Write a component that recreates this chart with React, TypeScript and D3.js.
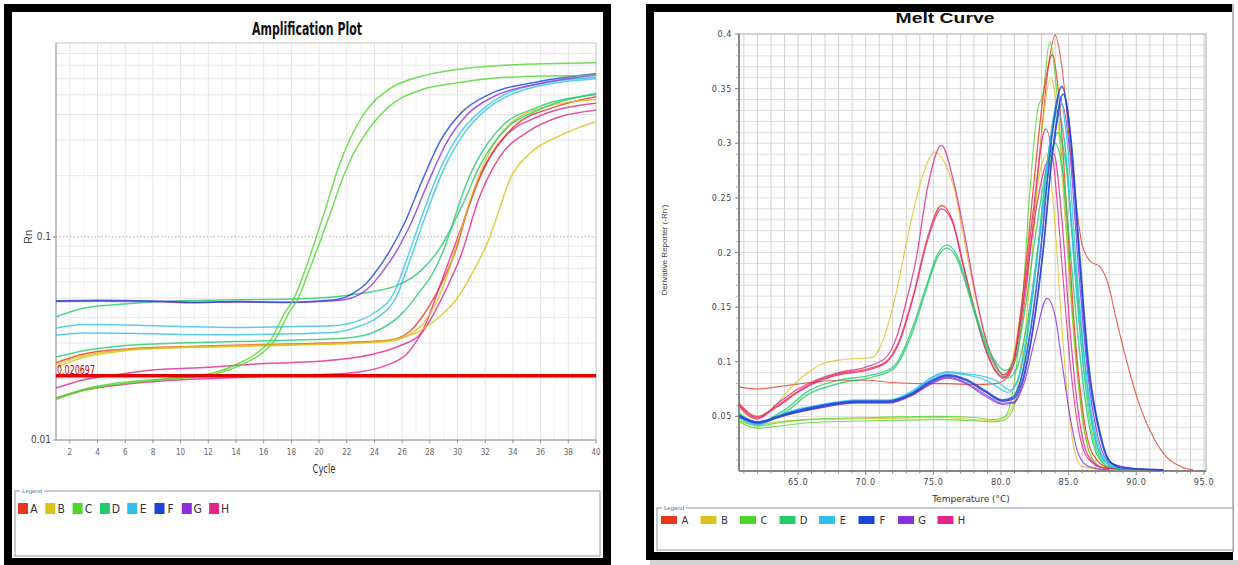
import React from 'react';
import * as d3 from 'd3';

type Pt = [number, number];

const sampleNames = ['A', 'B', 'C', 'D', 'E', 'F', 'G', 'H'];
const sampleColors = ['#e8371e', '#d9c21c', '#4fd62a', '#21cc6b', '#2fc0e9', '#1d44d8', '#8c2fe3', '#e3248a'];

// ---- amplification plot ----
const cycleTicks = d3.range(2, 41, 2);
const rnTickLabels = [0.01, 0.1];
const thresholdValue = 0.020697;

// [cycle, Rn]
const ampC1: Pt[] = [[1, 0.0161], [3, 0.0178], [5.4, 0.0191], [8, 0.0198], [10.2, 0.0204], [12.6, 0.0216], [14.3, 0.024], [15.5, 0.0268], [16.5, 0.031], [17.5, 0.042], [18.2, 0.05], [18.9, 0.066], [19.7, 0.095], [20.5, 0.14], [21.4, 0.22], [22.3, 0.31], [23.2, 0.4], [25, 0.53], [27.4, 0.617], [29.8, 0.665], [33.4, 0.7], [40, 0.72]];
const ampC2: Pt[] = [[1, 0.0158], [3, 0.0175], [5.4, 0.0188], [8, 0.0196], [10.2, 0.0202], [12.6, 0.0212], [14.3, 0.0233], [15.7, 0.0262], [16.8, 0.031], [17.8, 0.042], [18.5, 0.05], [19.2, 0.066], [20, 0.092], [20.8, 0.13], [21.6, 0.186], [22.4, 0.25], [23.2, 0.31], [25, 0.435], [27.4, 0.53], [29.8, 0.57], [33.4, 0.61], [40, 0.625]];
const ampF: Pt[] = [[1, 0.0484], [4, 0.0487], [8, 0.0484], [11, 0.0477], [14, 0.048], [18, 0.0477], [20, 0.0484], [21.5, 0.0495], [22.5, 0.053], [23.4, 0.059], [24, 0.066], [25, 0.083], [26.2, 0.118], [27.4, 0.186], [28.8, 0.3], [30.3, 0.41], [32.2, 0.5], [35.8, 0.58], [40, 0.635]];
const ampG: Pt[] = [[1, 0.048], [4, 0.0482], [8, 0.048], [11, 0.0474], [14, 0.0478], [18, 0.0475], [20, 0.048], [21.8, 0.049], [22.9, 0.052], [23.8, 0.058], [24.4, 0.065], [25.4, 0.081], [26.6, 0.115], [27.8, 0.18], [29.2, 0.29], [30.7, 0.4], [32.6, 0.49], [36, 0.57], [40, 0.625]];
const ampE1: Pt[] = [[1, 0.0355], [3, 0.037], [6, 0.0368], [10, 0.0362], [14, 0.0358], [18, 0.0362], [21, 0.0365], [23, 0.039], [24, 0.0423], [25.4, 0.0529], [26.4, 0.0797], [27.4, 0.125], [28.8, 0.22], [30.3, 0.333], [32, 0.435], [34.6, 0.54], [40, 0.61]];
const ampE2: Pt[] = [[1, 0.0328], [3, 0.0336], [6, 0.0335], [10, 0.0331], [14, 0.033], [18, 0.0333], [21, 0.0338], [23, 0.0365], [24.2, 0.04], [25.6, 0.051], [26.6, 0.078], [27.6, 0.122], [29, 0.215], [30.5, 0.325], [32.2, 0.43], [34.8, 0.53], [40, 0.6]];
const ampD1: Pt[] = [[1, 0.0404], [3, 0.0445], [5, 0.0462], [8, 0.0478], [11, 0.0486], [14, 0.049], [18, 0.0495], [20, 0.05], [22, 0.0515], [24, 0.054], [25.6, 0.0575], [27.4, 0.0686], [28.8, 0.0896], [30.3, 0.141], [31.7, 0.23], [33.7, 0.35], [35.8, 0.42], [40, 0.51]];
const ampD2: Pt[] = [[1, 0.0256], [3, 0.0275], [6, 0.0292], [10, 0.03], [14, 0.0305], [18, 0.031], [22, 0.0318], [24, 0.034], [26, 0.042], [27.2, 0.053], [28.2, 0.066], [29.1, 0.09], [29.9, 0.131], [30.6, 0.18], [31.3, 0.23], [32.2, 0.29], [33.2, 0.35], [35.8, 0.435], [40, 0.5]];
const ampB1: Pt[] = [[1, 0.0235], [3, 0.026], [6, 0.0278], [9, 0.0285], [13, 0.029], [18, 0.0295], [22, 0.03], [25, 0.031], [27.4, 0.0348], [28.8, 0.041], [29.9, 0.049], [31.3, 0.071], [32.2, 0.095], [33, 0.135], [33.7, 0.186], [35.3, 0.26], [37.4, 0.315], [40, 0.37]];
const ampB2: Pt[] = [[1, 0.0228], [3, 0.0255], [6, 0.0275], [9, 0.0283], [13, 0.0288], [18, 0.0293], [22, 0.0298], [25, 0.0305], [26.5, 0.033], [27.6, 0.038], [28.5, 0.048], [29.3, 0.066], [30.1, 0.1], [30.9, 0.15], [31.8, 0.22], [32.8, 0.3], [34, 0.37], [36, 0.43], [40, 0.475]];
const ampA: Pt[] = [[1, 0.024], [3, 0.0265], [6, 0.028], [10, 0.0288], [14, 0.0293], [18, 0.0297], [22, 0.0302], [25, 0.031], [26.5, 0.034], [27.4, 0.04], [28.1, 0.0474], [29, 0.062], [29.8, 0.083], [30.8, 0.141], [32.2, 0.2375], [34.1, 0.35], [37, 0.435], [40, 0.49]];
const ampH1: Pt[] = [[1, 0.018], [3, 0.0198], [5, 0.0208], [8, 0.0221], [12, 0.0228], [16, 0.0238], [20, 0.0244], [23.6, 0.0262], [25.6, 0.0287], [27.4, 0.0336], [28.8, 0.049], [30.3, 0.083], [31.5, 0.152], [33, 0.245], [35.1, 0.33], [37.4, 0.39], [40, 0.42]];
const ampH2: Pt[] = [[1, 0.0161], [3, 0.0176], [6, 0.0188], [10, 0.0198], [14, 0.0203], [18, 0.0208], [22, 0.0213], [25, 0.0235], [26.4, 0.0268], [27.6, 0.036], [28.8, 0.0593], [30.3, 0.112], [31.7, 0.206], [33.4, 0.31], [35.8, 0.39], [40, 0.455]];

const ampCurves = [
  { sample: 'H', pts: ampH2 }, { sample: 'H', pts: ampH1 }, { sample: 'A', pts: ampA },
  { sample: 'B', pts: ampB2 }, { sample: 'B', pts: ampB1 }, { sample: 'D', pts: ampD2 },
  { sample: 'D', pts: ampD1 }, { sample: 'E', pts: ampE2 }, { sample: 'E', pts: ampE1 },
  { sample: 'G', pts: ampG }, { sample: 'F', pts: ampF }, { sample: 'C', pts: ampC2 },
  { sample: 'C', pts: ampC1 },
];

// ---- melt curve ----
const tempTicks = [65, 70, 75, 80, 85, 90, 95];
const derivTicks = [0.05, 0.1, 0.15, 0.2, 0.25, 0.3, 0.35, 0.4];

// [temperature, derivative]
const meltA1: Pt[] = [[60.64, 0.077], [62, 0.075], [64, 0.078], [66, 0.081], [68, 0.083], [70, 0.083], [72, 0.081], [74, 0.08], [76, 0.08], [78, 0.079], [79.6, 0.08], [80.5, 0.086], [81.2, 0.11], [81.8, 0.16], [82.4, 0.23], [83, 0.31], [83.5, 0.37], [84, 0.399], [84.5, 0.37], [85, 0.31], [85.5, 0.25], [86, 0.207], [86.6, 0.192], [87.3, 0.187], [87.9, 0.172], [88.5, 0.14], [89.3, 0.1], [90.3, 0.058], [91.3, 0.03], [92.3, 0.012], [93.3, 0.004], [94.2, 0.001]];
const meltA2: Pt[] = [[60.64, 0.062], [62, 0.05], [63.5, 0.06], [65, 0.073], [66.5, 0.083], [68, 0.089], [70, 0.093], [71.5, 0.1], [72.5, 0.12], [73.5, 0.16], [74.6, 0.215], [75.6, 0.243], [76.4, 0.23], [77.2, 0.19], [78, 0.15], [78.8, 0.115], [79.6, 0.092], [80.2, 0.086], [80.9, 0.1], [81.6, 0.16], [82.4, 0.26], [83.2, 0.35], [83.8, 0.381], [84.3, 0.34], [84.9, 0.23], [85.5, 0.12], [86.1, 0.05], [86.8, 0.015], [88, 0.003], [91, 0.001]];
const meltB1: Pt[] = [[60.64, 0.058], [61.8, 0.048], [63, 0.056], [64.3, 0.074], [65.6, 0.089], [66.8, 0.098], [68, 0.1015], [70.5, 0.104], [71.2, 0.117], [72.2, 0.16], [73.2, 0.22], [74.2, 0.27], [75.1, 0.292], [75.8, 0.283], [76.5, 0.26], [77.3, 0.21], [78.1, 0.16], [78.9, 0.12], [79.6, 0.095], [80.2, 0.088], [80.8, 0.1], [81.5, 0.15], [82.3, 0.23], [83, 0.28], [83.4, 0.29], [83.9, 0.24], [84.4, 0.15], [84.9, 0.07], [85.4, 0.02], [86, 0.004], [88, 0.001]];
const meltB2: Pt[] = [[60.64, 0.046], [62, 0.042], [63.5, 0.045], [65.6, 0.047], [70.5, 0.048], [75.4, 0.049], [78, 0.047], [79.6, 0.046], [80.4, 0.05], [81.1, 0.07], [81.8, 0.13], [82.5, 0.23], [83.1, 0.32], [83.7, 0.36], [84.2, 0.32], [84.8, 0.22], [85.4, 0.12], [86, 0.05], [86.7, 0.012], [87.6, 0.003], [90, 0.001]];
const meltC1: Pt[] = [[60.64, 0.047], [62, 0.041], [63.5, 0.044], [65.6, 0.047], [70.5, 0.049], [75.4, 0.05], [78, 0.049], [79.5, 0.047], [80.3, 0.05], [80.9, 0.075], [81.5, 0.14], [82.1, 0.25], [82.7, 0.33], [83.1, 0.345], [83.6, 0.393], [84.1, 0.35], [84.7, 0.25], [85.3, 0.14], [85.9, 0.06], [86.6, 0.015], [87.5, 0.003], [90, 0.001]];
const meltC2: Pt[] = [[60.64, 0.045], [62, 0.039], [63.5, 0.041], [65.6, 0.044], [70.5, 0.046], [75.4, 0.047], [78, 0.046], [79.5, 0.045], [80.3, 0.047], [81, 0.06], [81.7, 0.1], [82.5, 0.18], [83.3, 0.27], [84.1, 0.33], [84.7, 0.3], [85.3, 0.21], [85.9, 0.12], [86.5, 0.05], [87.2, 0.015], [88, 0.003], [90, 0.001]];
const meltD1: Pt[] = [[60.64, 0.053], [62, 0.044], [63.5, 0.052], [64.3, 0.0585], [65.6, 0.072], [68, 0.083], [70.5, 0.088], [72, 0.095], [73.4, 0.129], [74.5, 0.17], [75.3, 0.198], [76, 0.207], [76.8, 0.196], [77.6, 0.166], [78.5, 0.13], [79.4, 0.104], [80.3, 0.092], [81, 0.1], [81.8, 0.15], [82.6, 0.22], [83.4, 0.28], [84, 0.3], [84.6, 0.27], [85.2, 0.19], [85.8, 0.11], [86.4, 0.05], [87.1, 0.015], [88, 0.004], [90, 0.001]];
const meltD2: Pt[] = [[60.64, 0.052], [62, 0.043], [63.5, 0.05], [64.3, 0.056], [65.6, 0.069], [68, 0.08], [70.5, 0.086], [72, 0.093], [73.4, 0.125], [74.5, 0.167], [75.3, 0.195], [76, 0.204], [76.8, 0.193], [77.6, 0.163], [78.5, 0.127], [79.4, 0.1], [80.5, 0.085], [81.2, 0.095], [82, 0.14], [82.8, 0.21], [83.6, 0.28], [84.2, 0.31], [84.8, 0.28], [85.4, 0.2], [86, 0.12], [86.6, 0.055], [87.3, 0.017], [88.2, 0.004], [90, 0.001]];
const meltE1: Pt[] = [[60.64, 0.05], [62, 0.043], [63.5, 0.05], [64.3, 0.054], [66.8, 0.061], [69.3, 0.065], [71.7, 0.065], [73.4, 0.073], [74.9, 0.086], [76, 0.091], [77.4, 0.089], [78.9, 0.086], [79.6, 0.083], [80.7, 0.074], [81.4, 0.09], [82.1, 0.14], [82.9, 0.22], [83.6, 0.3], [84.3, 0.344], [84.9, 0.3], [85.5, 0.2], [86.2, 0.1], [86.9, 0.04], [87.7, 0.01], [89, 0.002]];
const meltE2: Pt[] = [[60.64, 0.049], [62, 0.042], [63.5, 0.049], [64.3, 0.053], [66.8, 0.06], [69.3, 0.064], [71.7, 0.064], [73.4, 0.072], [74.9, 0.085], [76, 0.09], [77.4, 0.088], [78.9, 0.083], [79.6, 0.078], [80.5, 0.072], [81.3, 0.085], [82, 0.13], [82.8, 0.21], [83.5, 0.29], [84.2, 0.33], [84.8, 0.29], [85.4, 0.19], [86.1, 0.095], [86.8, 0.037], [87.6, 0.009], [89, 0.002]];
const meltF1: Pt[] = [[60.64, 0.051], [62, 0.045], [63.5, 0.05], [64.3, 0.053], [66.8, 0.06], [69.3, 0.064], [71.7, 0.064], [73.4, 0.071], [74.9, 0.083], [76, 0.088], [77.4, 0.084], [78.9, 0.073], [80.1, 0.065], [80.8, 0.067], [81.5, 0.085], [82.2, 0.13], [83, 0.21], [83.7, 0.3], [84.5, 0.352], [85.1, 0.31], [85.7, 0.21], [86.4, 0.1], [87.2, 0.039], [88, 0.009], [89, 0.003], [92, 0.001]];
const meltF2: Pt[] = [[60.64, 0.05], [62, 0.044], [63.5, 0.049], [64.3, 0.052], [66.8, 0.059], [69.3, 0.063], [71.7, 0.063], [73.4, 0.07], [74.9, 0.082], [76, 0.087], [77.4, 0.083], [78.9, 0.072], [80.1, 0.064], [80.9, 0.066], [81.6, 0.083], [82.3, 0.125], [83.1, 0.2], [83.8, 0.29], [84.6, 0.345], [85.2, 0.3], [85.8, 0.2], [86.5, 0.095], [87.3, 0.036], [88.1, 0.008], [89, 0.003], [92, 0.001]];
const meltG1: Pt[] = [[60.64, 0.05], [62, 0.044], [63.5, 0.05], [66.8, 0.059], [69.3, 0.063], [71.7, 0.063], [73.4, 0.07], [74.9, 0.081], [76, 0.086], [77.4, 0.081], [78.9, 0.0695], [80.1, 0.062], [80.9, 0.063], [81.6, 0.08], [82.3, 0.125], [83.1, 0.2], [83.8, 0.29], [84.5, 0.336], [85.1, 0.29], [85.7, 0.19], [86.4, 0.09], [87.1, 0.035], [88, 0.008], [90, 0.002]];
const meltG2: Pt[] = [[60.64, 0.049], [62, 0.043], [63.5, 0.049], [66.8, 0.058], [69.3, 0.062], [71.7, 0.062], [73.4, 0.069], [74.9, 0.08], [76, 0.085], [77.4, 0.08], [78.9, 0.068], [80.1, 0.061], [80.9, 0.062], [81.7, 0.08], [82.5, 0.12], [83.4, 0.158], [84, 0.142], [84.5, 0.1], [85.1, 0.05], [85.7, 0.016], [86.5, 0.004], [88, 0.001]];
const meltH1: Pt[] = [[60.64, 0.06], [62, 0.0475], [63.5, 0.062], [65, 0.075], [66.3, 0.083], [68, 0.09], [70, 0.095], [71.5, 0.104], [72.3, 0.123], [73, 0.155], [73.7, 0.192], [74.6, 0.261], [75.6, 0.298], [76.5, 0.265], [77.3, 0.217], [78, 0.17], [78.7, 0.129], [79.5, 0.1], [80.2, 0.088], [80.9, 0.1], [81.7, 0.16], [82.6, 0.24], [83.3, 0.28], [83.9, 0.29], [84.5, 0.23], [85.1, 0.13], [85.7, 0.055], [86.4, 0.015], [87.5, 0.003], [90, 0.001]];
const meltH2: Pt[] = [[60.64, 0.06], [62, 0.049], [63.5, 0.059], [65, 0.072], [66.5, 0.082], [68, 0.088], [70, 0.092], [71.5, 0.099], [72.5, 0.118], [73.5, 0.158], [74.6, 0.212], [75.6, 0.24], [76.4, 0.228], [77.2, 0.188], [78, 0.148], [78.8, 0.113], [79.6, 0.091], [80.2, 0.085], [80.9, 0.098], [81.6, 0.15], [82.4, 0.24], [83.3, 0.313], [83.9, 0.28], [84.5, 0.19], [85.1, 0.1], [85.7, 0.04], [86.4, 0.012], [87.5, 0.003], [90, 0.001]];

const meltCurves = [
  { sample: 'A', pts: meltA1, w: 1.1 }, { sample: 'B', pts: meltB2, w: 1.1 }, { sample: 'C', pts: meltC2, w: 1.1 },
  { sample: 'C', pts: meltC1, w: 1.1 }, { sample: 'B', pts: meltB1, w: 1.1 }, { sample: 'H', pts: meltH1, w: 1.3 },
  { sample: 'A', pts: meltA2, w: 1.3 }, { sample: 'H', pts: meltH2, w: 1.2 }, { sample: 'D', pts: meltD2, w: 1.4 },
  { sample: 'D', pts: meltD1, w: 1.4 }, { sample: 'G', pts: meltG2, w: 1.2 }, { sample: 'G', pts: meltG1, w: 1.2 },
  { sample: 'E', pts: meltE2, w: 1.4 }, { sample: 'E', pts: meltE1, w: 1.4 }, { sample: 'F', pts: meltF2, w: 1.7 },
  { sample: 'F', pts: meltF1, w: 1.7 },
];

const colorOf = (s: string) => sampleColors[sampleNames.indexOf(s)];

const narrow = "'Liberation Sans Narrow', 'DejaVu Sans Condensed', 'Roboto', sans-serif";
const sans = "'Liberation Sans', Arial, sans-serif";
const dejavu = "'DejaVu Sans', Verdana, sans-serif";

function AmpPlot() {
  const left = 56, right = 596, top = 43, bottom = 440;
  const x = d3.scaleLinear().domain([1, 40]).range([left, right]);
  const y = d3.scaleLog().domain([0.01, 0.9]).range([bottom, top]);
  const line = d3.line<Pt>().x(d => x(d[0])).y(d => y(d[1])).curve(d3.curveMonotoneX);

  const hGrid: number[] = [];
  [0.01, 0.1].forEach(dec => d3.range(2, 10).forEach(k => { if (k * dec <= 0.9) hGrid.push(k * dec); }));
  const minorCycles = d3.range(3, 40, 2);

  return (
    <g>
      <text x={307} y={35} textAnchor="middle" fontFamily={narrow} fontWeight="bold" fontSize={17}
        textLength={110} lengthAdjust="spacingAndGlyphs" fill="#111">Amplification Plot</text>
      <clipPath id="ampClip"><rect x={left} y={top} width={right - left} height={bottom - top} /></clipPath>
      {minorCycles.map(c => (
        <line key={'mc' + c} x1={x(c)} x2={x(c)} y1={top} y2={bottom} stroke="#f3f3f3" />
      ))}
      {cycleTicks.map(c => (
        <line key={'gc' + c} x1={x(c)} x2={x(c)} y1={top} y2={bottom} stroke="#e4e4e4" />
      ))}
      {hGrid.map(v => (
        <line key={'gh' + v} x1={left} x2={right} y1={y(v)} y2={y(v)} stroke="#e6e6e6" />
      ))}
      <line x1={left} x2={right} y1={y(0.1)} y2={y(0.1)} stroke="#aaa" strokeDasharray="1.5,2" />
      <rect x={left} y={top} width={right - left} height={bottom - top} fill="none" stroke="#cfcfcf" />
      <line x1={left} x2={left} y1={top} y2={bottom} stroke="#9a9a9a" />
      <line x1={left} x2={right} y1={bottom} y2={bottom} stroke="#9a9a9a" />
      <g clipPath="url(#ampClip)">
        {ampCurves.map((c, i) => (
          <path key={i} d={line(c.pts) || ''} fill="none" stroke={colorOf(c.sample)}
            strokeWidth={1.5} strokeOpacity={0.8} />
        ))}
        <line x1={left} x2={right} y1={y(thresholdValue)} y2={y(thresholdValue)} stroke="#e00000" strokeWidth={3.5} />
      </g>
      <text x={left + 1} y={y(thresholdValue) - 1.5} fontFamily={narrow} fontSize={13} fill="#c40000"
        textLength={38} lengthAdjust="spacingAndGlyphs">{thresholdValue.toString()}</text>
      {cycleTicks.map(c => (
        <g key={'t' + c}>
          <line x1={x(c)} x2={x(c)} y1={bottom} y2={bottom + 3} stroke="#888" />
          <text x={x(c)} y={bottom + 15} textAnchor="middle" fontFamily={narrow} fontSize={8} fill="#666">{c}</text>
        </g>
      ))}
      {rnTickLabels.map(v => (
        <g key={'r' + v}>
          <line x1={left - 3} x2={left} y1={y(v)} y2={y(v)} stroke="#888" />
          <text x={left - 5} y={y(v) + 3} textAnchor="end" fontFamily={narrow} fontSize={10} fill="#444">{v}</text>
        </g>
      ))}
      <text x={324} y={473} textAnchor="middle" fontFamily={narrow} fontSize={12} fill="#333"
        textLength={23} lengthAdjust="spacingAndGlyphs">Cycle</text>
      <text transform="translate(32,237) rotate(-90)" textAnchor="middle" fontFamily={sans} fontSize={11} fill="#444">Rn</text>
      <Legend x0={15} y0={491} x1={600} y1={556} sw={10} sh={11} step={27.3} sx={18} sy={503}
        labelDx={16} fs={12} font={narrow} />
    </g>
  );
}

function MeltPlot() {
  const left = 739, right = 1206, top = 34, bottom = 471;
  const x = d3.scaleLinear().domain([60.64, 95.15]).range([left, right]);
  const y = d3.scaleLinear().domain([0, 0.4]).range([bottom, top]);
  const line = d3.line<Pt>().x(d => x(d[0])).y(d => y(d[1])).curve(d3.curveMonotoneX);
  const vGrid = d3.range(61, 96);
  const hGrid = d3.range(1, 40).map(k => k / 100);

  return (
    <g>
      <text x={945} y={23} textAnchor="middle" fontFamily={sans} fontWeight="bold" fontSize={14}
        textLength={99} lengthAdjust="spacingAndGlyphs" fill="#111">Melt Curve</text>
      <clipPath id="meltClip"><rect x={left} y={top} width={right - left} height={bottom - top} /></clipPath>
      {hGrid.map(v => (
        <line key={'h' + v} x1={left} x2={right} y1={y(v)} y2={y(v)} stroke="#dedede" />
      ))}
      {vGrid.map(t => (
        <line key={'v' + t} x1={x(t)} x2={x(t)} y1={top} y2={bottom} stroke="#d2d2d2" />
      ))}
      <rect x={left} y={top} width={right - left} height={bottom - top} fill="none" stroke="#a8a8a8" />
      <line x1={left} x2={left} y1={top} y2={bottom} stroke="#6e6e6e" strokeWidth={1.5} />
      <line x1={left} x2={right} y1={bottom} y2={bottom} stroke="#6e6e6e" strokeWidth={1.5} />
      <g clipPath="url(#meltClip)">
        {meltCurves.map((c, i) => (
          <path key={i} d={line(c.pts) || ''} fill="none" stroke={colorOf(c.sample)}
            strokeWidth={c.w} strokeOpacity={0.8} />
        ))}
      </g>
      {vGrid.map(t => (
        <line key={'xt' + t} x1={x(t)} x2={x(t)} y1={bottom} y2={bottom + (t % 5 === 0 ? 4 : 2.5)} stroke="#888" />
      ))}
      {tempTicks.map(t => (
        <text key={'xl' + t} x={x(t)} y={bottom + 14} textAnchor="middle" fontFamily={dejavu} fontSize={8}
          letterSpacing={0.6} fill="#444">{t.toFixed(1)}</text>
      ))}
      {hGrid.map(v => (
        <line key={'yt' + v} x1={left - 2.5} x2={left} y1={y(v)} y2={y(v)} stroke="#999" />
      ))}
      {derivTicks.map(v => (
        <g key={'yl' + v}>
          <line x1={left - 4} x2={left} y1={y(v)} y2={y(v)} stroke="#888" />
          <text x={left - 7} y={y(v) + 3} textAnchor="end" fontFamily={dejavu} fontSize={8}
            letterSpacing={0.6} fill="#444">{String(v)}</text>
        </g>
      ))}
      <text x={971} y={502} textAnchor="middle" fontFamily={dejavu} fontSize={9} fill="#333">Temperature (°C)</text>
      <text transform="translate(667,250) rotate(-90)" textAnchor="middle" fontFamily={sans} fontSize={8}
        fill="#444">Derivative Reporter (-Rn')</text>
      <Legend x0={657} y0={508} x1={1233} y1={550} sw={16} sh={8} step={39.5} sx={661} sy={516}
        labelDx={24} fs={10} font={dejavu} />
    </g>
  );
}

function Legend(props: {
  x0: number; y0: number; x1: number; y1: number; sw: number; sh: number; step: number;
  sx: number; sy: number; labelDx: number; fs: number; font: string;
}) {
  const { x0, y0, x1, y1, sw, sh, step, sx, sy, labelDx, fs, font } = props;
  const pos = d3.scaleLinear().domain([0, 1]).range([sx, sx + step]);
  return (
    <g>
      <rect x={x0} y={y0} width={x1 - x0} height={y1 - y0} fill="#fff" stroke="#8f9aa4" />
      <rect x={x0 + 5} y={y0 - 4} width={24} height={7} fill="#fff" />
      <text x={x0 + 7} y={y0 + 2} fontFamily={sans} fontSize={6} fill="#4a78b0">Legend</text>
      {sampleNames.map((s, i) => (
        <g key={s}>
          <rect x={pos(i)} y={sy} width={sw} height={sh} fill={sampleColors[i]} />
          <text x={pos(i) + labelDx} y={sy + sh / 2 + fs * 0.36} textAnchor="middle" fontFamily={font}
            fontSize={fs} fill="#333">{s}</text>
        </g>
      ))}
    </g>
  );
}

export default function App() {
  return (
    <svg width={1238} height={565} style={{ position: 'absolute', left: 0, top: 0, background: '#fff' }}>
      <rect x={0} y={0} width={1238} height={565} fill="#fff" />
      {/* left frame */}
      <rect x={8} y={8} width={599} height={554} fill="#fff" stroke="#000" strokeWidth={8} />
      {/* right frame */}
      <rect x={650} y={560} width={588} height={5} fill="#d4d4d4" />
      <rect x={654} y={12} width={578} height={540} fill="#fff" />
      <rect x={646} y={4} width={586} height={8} fill="#000" />
      <rect x={646} y={4} width={8} height={556} fill="#000" />
      <rect x={646} y={552} width={587} height={8} fill="#000" />
      <line x1={1233} x2={1233} y1={4} y2={552} stroke="#b8b8b8" strokeWidth={2} />
      <AmpPlot />
      <MeltPlot />
    </svg>
  );
}
